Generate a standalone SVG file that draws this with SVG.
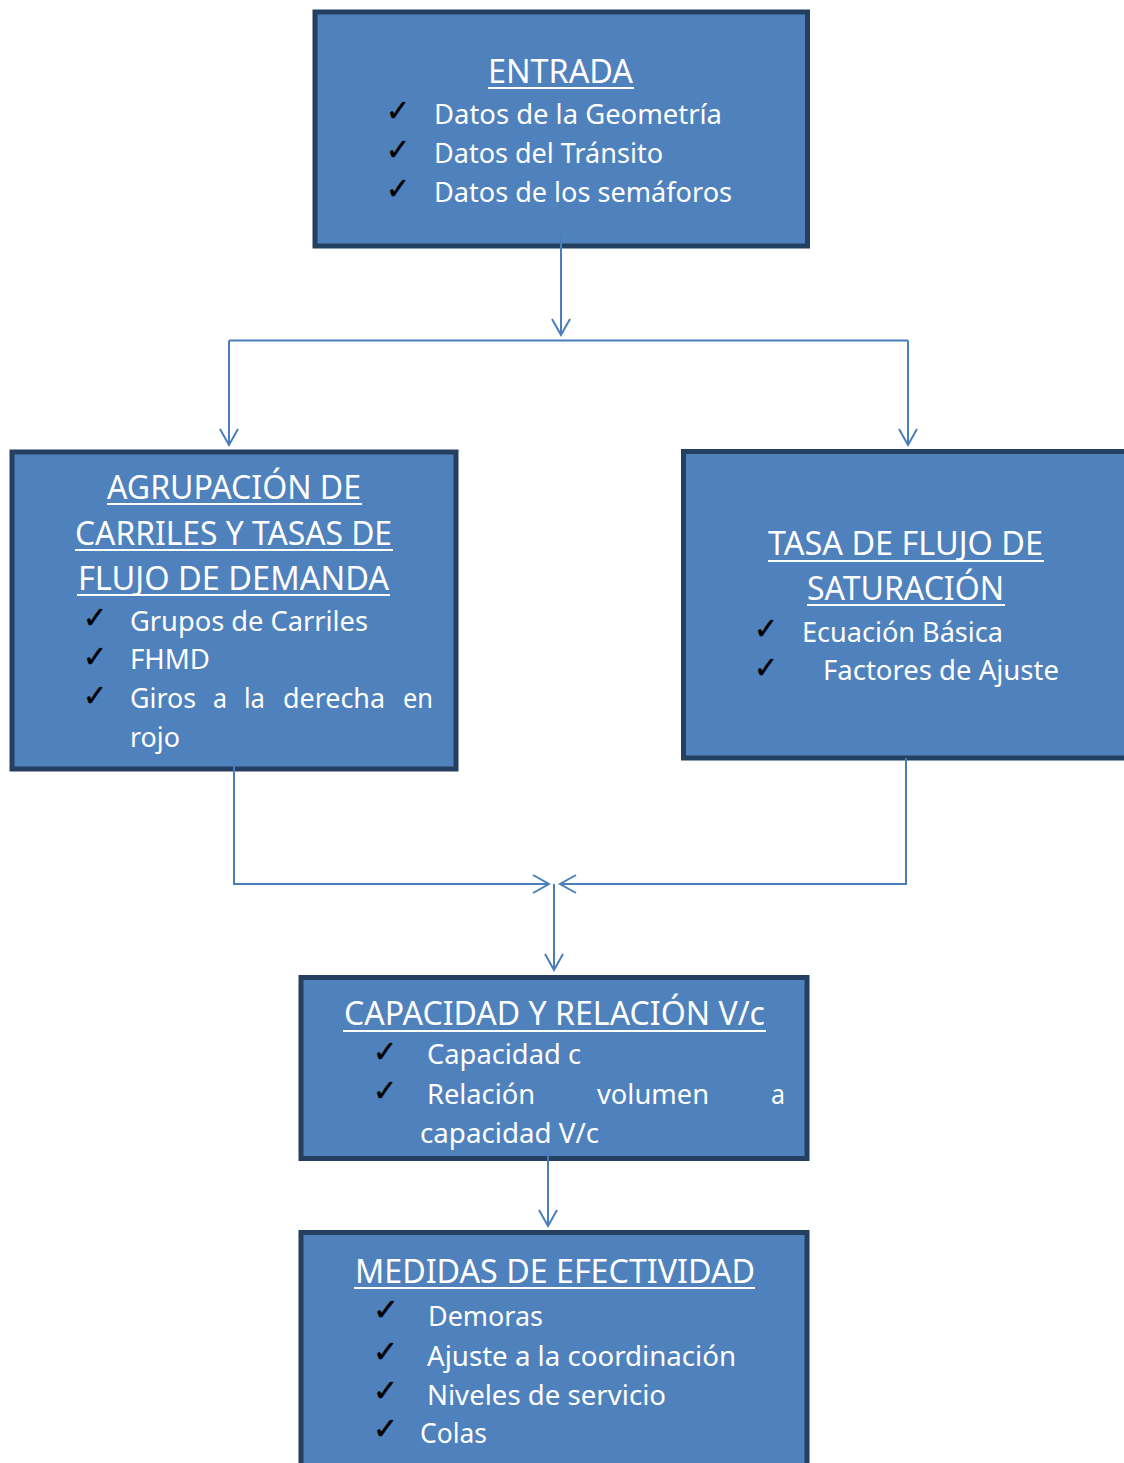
<svg xmlns="http://www.w3.org/2000/svg" width="1124" height="1463" viewBox="0 0 1124 1463">
  <style>
    .box { fill: #4F81BD; stroke: #243F60; stroke-width: 5; }
    .title { font-family: "Noto Sans", "Open Sans", sans-serif; font-size: 32px; fill: #FFFFFF; }
    .body { font-family: "Noto Sans", "Open Sans", sans-serif; font-size: 27px; fill: #FFFFFF; }
    .ul { stroke: #FFFFFF; stroke-width: 2; }
    .chk { font-family: "DejaVu Sans", sans-serif; font-size: 30px; fill: #000000; stroke: #000000; stroke-width: 0.5; }
    .conn { fill: none; stroke: #4A7EBB; stroke-width: 2; }
  </style>
  <defs>
    <marker id="arr" viewBox="-18 -10 20 20" refX="0" refY="0" markerWidth="20" markerHeight="20" markerUnits="userSpaceOnUse" orient="auto">
      <path d="M-16,-9 L0,0 L-16,9" fill="none" stroke="#4A7EBB" stroke-width="2"/>
    </marker>
  </defs>
  <rect width="1124" height="1463" fill="#FFFFFF"/>

  <g id="entrada">
    <rect class="box" x="315" y="12" width="492.5" height="234"/>
    <text class="title" x="488" y="83" textLength="145" lengthAdjust="spacingAndGlyphs">ENTRADA</text>
    <line class="ul" x1="488" y1="88" x2="634" y2="88"/>
    <text class="chk" x="386" y="121" textLength="24" lengthAdjust="spacingAndGlyphs">✓</text>
    <text class="body" x="434" y="124" textLength="288" lengthAdjust="spacingAndGlyphs">Datos de la Geometría</text>
    <text class="chk" x="386" y="160" textLength="24" lengthAdjust="spacingAndGlyphs">✓</text>
    <text class="body" x="434" y="163" textLength="229" lengthAdjust="spacingAndGlyphs">Datos del Tránsito</text>
    <text class="chk" x="386" y="199" textLength="24" lengthAdjust="spacingAndGlyphs">✓</text>
    <text class="body" x="434" y="202" textLength="298" lengthAdjust="spacingAndGlyphs">Datos de los semáforos</text>
  </g>

  <g id="agrupacion">
    <rect class="box" x="12" y="452" width="444" height="317"/>
    <text class="title" x="107" y="499" textLength="254" lengthAdjust="spacingAndGlyphs">AGRUPACIÓN DE</text>
    <line class="ul" x1="107" y1="504" x2="362" y2="504"/>
    <text class="title" x="75" y="545" textLength="317" lengthAdjust="spacingAndGlyphs">CARRILES Y TASAS DE</text>
    <line class="ul" x1="75" y1="550" x2="393" y2="550"/>
    <text class="title" x="78" y="590" textLength="311" lengthAdjust="spacingAndGlyphs">FLUJO DE DEMANDA</text>
    <line class="ul" x1="77" y1="595" x2="390" y2="595"/>
    <text class="chk" x="83" y="628" textLength="24" lengthAdjust="spacingAndGlyphs">✓</text>
    <text class="body" x="130" y="631" textLength="238" lengthAdjust="spacingAndGlyphs">Grupos de Carriles</text>
    <text class="chk" x="83" y="667" textLength="24" lengthAdjust="spacingAndGlyphs">✓</text>
    <text class="body" x="130" y="669" textLength="80" lengthAdjust="spacingAndGlyphs">FHMD</text>
    <text class="chk" x="83" y="706" textLength="24" lengthAdjust="spacingAndGlyphs">✓</text>
    <text class="body" y="708"><tspan x="130" textLength="66" lengthAdjust="spacingAndGlyphs">Giros</tspan><tspan x="213" textLength="14" lengthAdjust="spacingAndGlyphs">a</tspan><tspan x="244" textLength="21" lengthAdjust="spacingAndGlyphs">la</tspan><tspan x="283" textLength="102" lengthAdjust="spacingAndGlyphs">derecha</tspan><tspan x="403" textLength="30" lengthAdjust="spacingAndGlyphs">en</tspan></text>
    <text class="body" x="130" y="747" textLength="50" lengthAdjust="spacingAndGlyphs">rojo</text>
  </g>

  <g id="saturacion">
    <rect class="box" x="683.5" y="451.5" width="460" height="306.5"/>
    <text class="title" x="768" y="555" textLength="275" lengthAdjust="spacingAndGlyphs">TASA DE FLUJO DE</text>
    <line class="ul" x1="768" y1="561" x2="1044" y2="561"/>
    <text class="title" x="807" y="600" textLength="197" lengthAdjust="spacingAndGlyphs">SATURACIÓN</text>
    <line class="ul" x1="807" y1="605" x2="1005" y2="605"/>
    <text class="chk" x="754" y="639" textLength="24" lengthAdjust="spacingAndGlyphs">✓</text>
    <text class="body" x="802" y="642" textLength="201" lengthAdjust="spacingAndGlyphs">Ecuación Básica</text>
    <text class="chk" x="754" y="678" textLength="24" lengthAdjust="spacingAndGlyphs">✓</text>
    <text class="body" x="823" y="680" textLength="236" lengthAdjust="spacingAndGlyphs">Factores de Ajuste</text>
  </g>

  <g id="capacidad">
    <rect class="box" x="301" y="977.5" width="506" height="181"/>
    <text class="title" x="344" y="1025" textLength="421" lengthAdjust="spacingAndGlyphs">CAPACIDAD Y RELACIÓN V/c</text>
    <line class="ul" x1="343" y1="1031" x2="766" y2="1031"/>
    <text class="chk" x="373" y="1062" textLength="24" lengthAdjust="spacingAndGlyphs">✓</text>
    <text class="body" x="427" y="1064" textLength="154" lengthAdjust="spacingAndGlyphs">Capacidad c</text>
    <text class="chk" x="373" y="1101" textLength="24" lengthAdjust="spacingAndGlyphs">✓</text>
    <text class="body" y="1104"><tspan x="427" textLength="108" lengthAdjust="spacingAndGlyphs">Relación</tspan><tspan x="597" textLength="112" lengthAdjust="spacingAndGlyphs">volumen</tspan><tspan x="771" textLength="14" lengthAdjust="spacingAndGlyphs">a</tspan></text>
    <text class="body" x="420" y="1143" textLength="179" lengthAdjust="spacingAndGlyphs">capacidad V/c</text>
  </g>

  <g id="medidas">
    <rect class="box" x="301" y="1232.5" width="506" height="260"/>
    <text class="title" x="355" y="1283" textLength="400" lengthAdjust="spacingAndGlyphs">MEDIDAS DE EFECTIVIDAD</text>
    <line class="ul" x1="354" y1="1288" x2="755" y2="1288"/>
    <text class="chk" x="373" y="1320" textLength="26" lengthAdjust="spacingAndGlyphs">✓</text>
    <text class="body" x="428" y="1326" textLength="115" lengthAdjust="spacingAndGlyphs">Demoras</text>
    <text class="chk" x="373" y="1362" textLength="25" lengthAdjust="spacingAndGlyphs">✓</text>
    <text class="body" x="427" y="1366" textLength="309" lengthAdjust="spacingAndGlyphs">Ajuste a la coordinación</text>
    <text class="chk" x="373" y="1401" textLength="25" lengthAdjust="spacingAndGlyphs">✓</text>
    <text class="body" x="427" y="1405" textLength="239" lengthAdjust="spacingAndGlyphs">Niveles de servicio</text>
    <text class="chk" x="373" y="1439" textLength="25" lengthAdjust="spacingAndGlyphs">✓</text>
    <text class="body" x="420" y="1443" textLength="67" lengthAdjust="spacingAndGlyphs">Colas</text>
  </g>

  <g id="connectors">
    <path class="conn" d="M561,232 V335" marker-end="url(#arr)"/>
    <path class="conn" d="M229,340.5 H908"/>
    <path class="conn" d="M229,340.5 V445" marker-end="url(#arr)"/>
    <path class="conn" d="M908,340.5 V445" marker-end="url(#arr)"/>
    <path class="conn" d="M234,758 V884 H549" marker-end="url(#arr)"/>
    <path class="conn" d="M906,758 V884 H560" marker-end="url(#arr)"/>
    <path class="conn" d="M554,884 V970" marker-end="url(#arr)"/>
    <path class="conn" d="M548,1155 V1226" marker-end="url(#arr)"/>
  </g>
</svg>
